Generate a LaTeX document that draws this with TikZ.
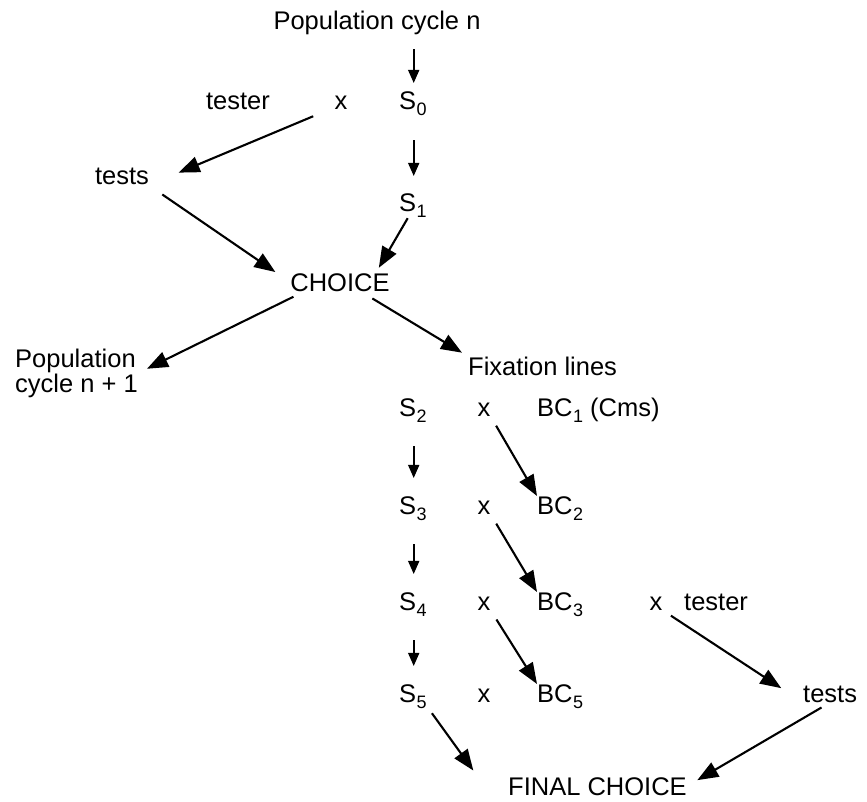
\documentclass[tikz,border=0pt]{standalone}
\usepackage{fontspec}
\setmainfont{Liberation Sans}
\usetikzlibrary{arrows.meta}

% lowered index after a symbol (S_0, BC_1, ...)
\newcommand\lowidx[1]{\kern0.5pt\raisebox{-6pt}{\fontsize{18}{18}\selectfont #1}}

\begin{document}
\begin{tikzpicture}[x=1pt,y=-1pt,
  lbl/.style={inner sep=0pt, font=\fontsize{25.5}{30}\selectfont},
  biglink/.style={line width=2.1pt, -{Triangle[length=21pt,width=16pt]}},
  vlink/.style={line width=1.6pt, -{Triangle[length=13pt,width=11pt]},
    transform canvas={xshift=6pt}, shorten <=24pt, shorten >=18pt}]
\useasboundingbox (0,0) rectangle (867,802);

% upper part: selection in the population
\node[lbl, anchor=base] (popn) at (377,30) {Population cycle n};
\node[lbl, anchor=base] (tester1) at (238,110) {tester};
\node[lbl, anchor=base] (x1) at (341,110) {x};
\node[lbl, anchor=base west] (S0) at (399,110) {S\rlap{\lowidx{0}}};
\node[lbl, anchor=base] (tests1) at (122,185) {tests};
\node[lbl, anchor=base west] (S1) at (399,212) {S\rlap{\lowidx{1}}};
\node[lbl, anchor=base] (choice) at (340,291) {CHOICE};
\node[lbl, anchor=north west, align=left, font=\fontsize{25.5}{23.5}\selectfont]
  (popn1) at (15,348.7) {Population\\cycle n + 1};
\node[lbl, anchor=base west] (fix) at (468,375) {Fixation lines};

% lower part: fixation lines and backcrosses
\node[lbl, anchor=base west] (S2) at (399,416) {S\rlap{\lowidx{2}}};
\node[lbl, anchor=base west] (S3) at (399,514) {S\rlap{\lowidx{3}}};
\node[lbl, anchor=base west] (S4) at (399,610) {S\rlap{\lowidx{4}}};
\node[lbl, anchor=base west] (S5) at (399,702) {S\rlap{\lowidx{5}}};
\node[lbl, anchor=base] (xa2) at (484,416) {x};
\node[lbl, anchor=base] (xa3) at (484,514) {x};
\node[lbl, anchor=base] (xa4) at (484,610) {x};
\node[lbl, anchor=base] (xa5) at (484,702) {x};
\node[lbl, anchor=base west] (BC1) at (537,416) {BC\lowidx{1} (Cms)};
\node[lbl, anchor=base west] (BC2) at (537,514) {BC\lowidx{2}};
\node[lbl, anchor=base west] (BC3) at (537,610) {BC\lowidx{3}};
\node[lbl, anchor=base west] (BC5) at (537,702) {BC\lowidx{5}};
\node[lbl, anchor=base] (xT) at (656,610) {x};
\node[lbl, anchor=base west] (tester2) at (684,610) {tester};
\node[lbl, anchor=base west] (tests2) at (803,702) {tests};
\node[lbl, anchor=base west] (final) at (508,795) {FINAL CHOICE};

% connectors
\draw[vlink, shorten <=14pt, shorten >=9pt] (popn.south -| S0.north) -- (S0.north);
\draw[biglink, shorten <=23pt, shorten >=32pt] (x1.mid west) -- (tests1.base east);
\draw[vlink] (S0.south) -- (S1.north);
\draw[biglink, shorten <=16pt, shorten >=18pt] (tests1.south east) -- (choice.west);
\draw[biglink, shorten >=6pt] (S1.south) -- ([xshift=-14pt]choice.north east);
\draw[biglink, shorten <=12pt, shorten >=10pt] ([xshift=14pt]choice.south west) -- (popn1.east);
\draw[biglink, shorten <=13.5pt, shorten >=7pt] ([xshift=-29pt]choice.south east) -- (fix.north west);

\draw[vlink] (S2.south) -- (S3.north);
\draw[vlink] (S3.south) -- (S4.north);
\draw[vlink] (S4.south) -- (S5.north);
\draw[biglink, shorten <=11pt] (xa2.south east) -- (BC2.north west);
\draw[biglink, shorten <=11pt] (xa3.south east) -- (BC3.north west);
\draw[biglink, shorten <=11pt] (xa4.south east) -- (BC5.north west);
\draw[biglink, shorten <=10pt, shorten >=26pt] (xT.south east) -- (tests2.south west);
\draw[biglink, shorten <=10pt, shorten >=12pt] (tests2.south) -- (final.east);
\draw[biglink, shorten <=6pt, shorten >=8pt] ([xshift=12pt]S5.south east) -- ([xshift=-30pt]final.north west);
\end{tikzpicture}
\end{document}
